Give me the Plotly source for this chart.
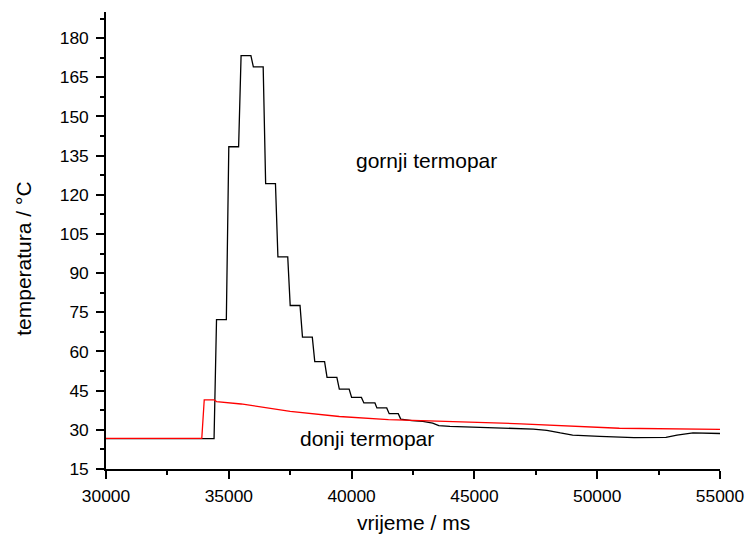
import plotly.graph_objects as go

# gornji termopar (upper thermocouple) - black
upper_time = [30000, 34400, 34500, 34900, 35000, 35400, 35500, 35900, 36000, 36400,
              36500, 36900, 37000, 37400, 37500, 37900, 38000, 38400, 38500, 38900,
              39000, 39400, 39500, 39900, 40000, 40400, 40500, 40950, 41030, 41430,
              41530, 41900, 42000, 42450, 42900, 43300, 43550, 44000, 47400, 47950,
              48500, 49000, 50100, 51500, 52800, 53250, 53900, 55000]
upper_temp = [26.6, 26.6, 72.2, 72.2, 138.4, 138.4, 173.3, 173.3, 169.0, 169.0,
              124.3, 124.3, 96.2, 96.2, 77.6, 77.6, 65.5, 65.5, 56.1, 56.1,
              50.1, 50.1, 45.6, 45.6, 42.4, 42.4, 40.3, 40.3, 38.4, 38.4,
              36.2, 36.2, 34.1, 33.5, 33.2, 32.6, 31.6, 31.3, 30.3, 29.8,
              28.8, 28.0, 27.5, 27.0, 27.1, 28.0, 28.8, 28.6]

# donji termopar (lower thermocouple) - red
lower_time = [30000, 33900, 34000, 34400, 34500, 35500, 37500, 39500, 41500, 42800,
              46900, 50900, 55000]
lower_temp = [26.7, 26.7, 41.5, 41.5, 40.8, 39.9, 37.1, 35.1, 33.9, 33.5,
              32.3, 30.6, 30.2]

x_ticks = [30000, 35000, 40000, 45000, 50000, 55000]
y_ticks = [15, 30, 45, 60, 75, 90, 105, 120, 135, 150, 165, 180]

FONT = "Liberation Sans, Arial, sans-serif"

fig = go.Figure()
fig.add_trace(go.Scatter(x=upper_time, y=upper_temp, mode="lines",
                         line=dict(color="black", width=1.3), showlegend=False))
fig.add_trace(go.Scatter(x=lower_time, y=lower_temp, mode="lines",
                         line=dict(color="#ff0000", width=1.3), showlegend=False))

fig.update_layout(
    width=748, height=541,
    margin=dict(l=106, r=28, t=12, b=72, autoexpand=False),
    paper_bgcolor="white", plot_bgcolor="white",
    font=dict(family=FONT, color="black", size=17.4),
    xaxis=dict(range=[30000, 55000], tickvals=x_ticks, ticktext=[str(v) for v in x_ticks],
               showline=True, linecolor="black", linewidth=1.5, mirror=False,
               ticks="outside", ticklen=8, tickwidth=1.5, tickcolor="black",
               showgrid=False, zeroline=False, ticklabelstandoff=2, automargin=False,
               minor=dict(dtick=2500, ticks="outside", ticklen=4, tickwidth=1.5, tickcolor="black", showgrid=False),
               tickfont=dict(size=17.4)),
    yaxis=dict(range=[15, 190], tickvals=y_ticks, ticktext=[str(v) for v in y_ticks],
               showline=True, linecolor="black", linewidth=1.5, mirror=False,
               ticks="outside", ticklen=8, tickwidth=1.5, tickcolor="black",
               showgrid=False, zeroline=False, ticklabelstandoff=4, automargin=False,
               minor=dict(tick0=15, dtick=7.5, ticks="outside", ticklen=4, tickwidth=1.5, tickcolor="black", showgrid=False),
               tickfont=dict(size=17.4)),
    annotations=[
        dict(text="gornji termopar", x=43065, y=133, xref="x", yref="y",
             showarrow=False, font=dict(size=21, family=FONT), xanchor="center", yanchor="middle"),
        dict(text="donji termopar", x=40623, y=26.6, xref="x", yref="y",
             showarrow=False, font=dict(size=21, family=FONT), xanchor="center", yanchor="middle"),
        dict(text="vrijeme / ms", x=0.5, y=-0.1174, xref="paper", yref="paper",
             showarrow=False, font=dict(size=21, family=FONT), xanchor="center", yanchor="middle"),
        dict(text="temperatura / °C", x=-0.1336, y=0.46, xref="paper", yref="paper", textangle=-90,
             showarrow=False, font=dict(size=21, family=FONT), xanchor="center", yanchor="middle"),
    ],
)

fig.write_html("out.html",
               config={"displayModeBar": False},
               post_script="document.body.style.margin='0';document.documentElement.style.overflow='hidden';")
